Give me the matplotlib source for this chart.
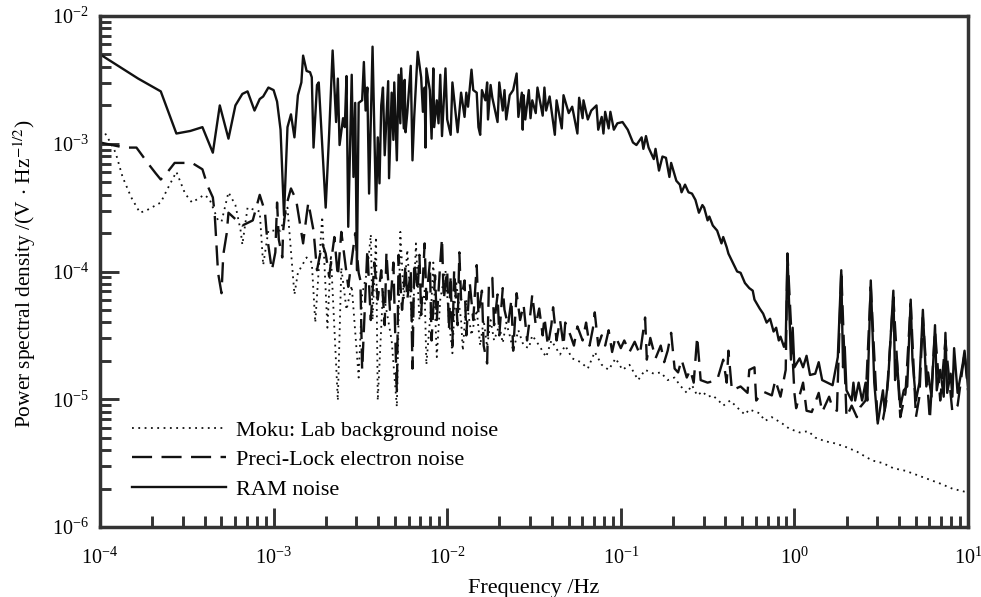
import matplotlib
matplotlib.use('Agg')
import numpy as np
import matplotlib.pyplot as plt
from matplotlib.ticker import LogLocator, NullFormatter

plt.rcParams['font.family'] = ['Liberation Serif', 'DejaVu Serif']
plt.rcParams['mathtext.fontset'] = 'stix'

# all values, stored as log10(Hz) and log10(PSD)
ram_logf = [
    -4.00, -3.78, -3.65, -3.56, -3.48, -3.41, -3.35, -3.31, -3.26, -3.22, -3.18, -3.15, -3.11, -3.08, -3.06, -3.03,
    -3.00, -2.98, -2.96, -2.94, -2.92, -2.90, -2.88, -2.86, -2.84, -2.83, -2.81, -2.79, -2.78, -2.77, -2.75, -2.74,
    -2.70, -2.68, -2.66, -2.64, -2.63, -2.62, -2.60, -2.59, -2.58, -2.57, -2.55, -2.54, -2.53, -2.52, -2.51, -2.49,
    -2.48, -2.47, -2.46, -2.45, -2.43, -2.41, -2.40, -2.39, -2.38, -2.37, -2.36, -2.34, -2.335, -2.32, -2.31, -2.305,
    -2.29, -2.28, -2.27, -2.265, -2.25, -2.245, -2.24, -2.23, -2.21, -2.20, -2.19, -2.17, -2.15, -2.14, -2.13, -2.125,
    -2.12, -2.10, -2.09, -2.08, -2.075, -2.06, -2.05, -2.04, -2.03, -2.01, -2.00, -1.98, -1.97, -1.94, -1.92, -1.90,
    -1.89, -1.88, -1.86, -1.85, -1.83, -1.82, -1.81, -1.80, -1.78, -1.77, -1.765, -1.75, -1.74, -1.71, -1.70, -1.68,
    -1.67, -1.66, -1.64, -1.62, -1.60, -1.59, -1.57, -1.565, -1.56, -1.55, -1.53, -1.52, -1.51, -1.49, -1.48, -1.45,
    -1.44, -1.43, -1.41, -1.38, -1.37, -1.34, -1.33, -1.30, -1.28, -1.25, -1.24, -1.22, -1.215, -1.19, -1.17, -1.14,
    -1.13, -1.11, -1.10, -1.09, -1.07, -1.06, -1.04, -1.02, -0.99, -0.96, -0.93, -0.91, -0.88, -0.87, -0.855, -0.84,
    -0.81, -0.80, -0.78, -0.76, -0.74, -0.72, -0.71, -0.68, -0.66, -0.65, -0.63, -0.61, -0.59, -0.57, -0.55, -0.53,
    -0.52, -0.50, -0.49, -0.47, -0.445, -0.42, -0.41, -0.39, -0.38, -0.355, -0.33, -0.31, -0.285, -0.26, -0.24, -0.23,
    -0.20, -0.18, -0.16, -0.14, -0.12, -0.105, -0.09, -0.08, -0.06, -0.05, -0.04, -0.02, -0.01, 0.00, 0.03, 0.05,
    0.07, 0.09, 0.12, 0.14, 0.16, 0.19, 0.22, 0.25, 0.27, 0.28, 0.29, 0.30, 0.33, 0.34, 0.35, 0.37,
    0.39, 0.41, 0.42, 0.44, 0.46, 0.48, 0.51, 0.52, 0.54, 0.57, 0.58, 0.59, 0.61, 0.63, 0.65, 0.67,
    0.68, 0.70, 0.72, 0.74, 0.76, 0.77, 0.79, 0.81, 0.82, 0.84, 0.86, 0.87, 0.88, 0.90, 0.91, 0.92,
    0.94, 0.97, 0.98, 1.00]
ram_logp = [
    -2.30, -2.49, -2.59, -2.92, -2.90, -2.87, -3.07, -2.70, -2.96, -2.70, -2.61, -2.59, -2.74, -2.65, -2.63, -2.56,
    -2.58, -2.67, -2.89, -3.56, -2.87, -2.77, -2.95, -2.62, -2.52, -2.31, -2.43, -2.44, -2.48, -3.03, -2.54, -2.52,
    -3.50, -2.92, -2.27, -2.83, -2.49, -3.01, -2.80, -2.87, -2.47, -3.65, -2.46, -3.26, -2.68, -3.99, -2.68, -2.66,
    -2.36, -2.74, -2.56, -3.39, -2.24, -3.52, -2.95, -3.31, -2.70, -2.56, -3.09, -2.51, -3.27, -2.60, -2.97, -2.52,
    -3.13, -2.46, -2.84, -2.41, -2.88, -2.50, -2.91, -2.76, -2.39, -3.13, -2.79, -2.28, -2.48, -2.75, -2.56, -3.03,
    -2.41, -2.58, -2.96, -2.41, -2.87, -2.66, -2.84, -2.46, -2.94, -2.41, -2.81, -2.93, -2.52, -2.91, -2.60, -2.79,
    -2.60, -2.71, -2.42, -2.58, -2.60, -2.87, -2.93, -2.58, -2.66, -2.52, -2.81, -2.54, -2.64, -2.83, -2.52, -2.74,
    -2.58, -2.81, -2.62, -2.58, -2.45, -2.79, -2.60, -2.89, -2.62, -2.81, -2.58, -2.80, -2.66, -2.76, -2.56, -2.78,
    -2.56, -2.74, -2.63, -2.93, -2.66, -2.88, -2.62, -2.76, -2.71, -2.92, -2.64, -2.80, -2.66, -2.81, -2.74, -2.70,
    -2.89, -2.79, -2.92, -2.75, -2.88, -2.75, -2.89, -2.84, -2.83, -2.89, -2.99, -3.01, -2.95, -3.04, -2.94, -3.03,
    -3.12, -3.04, -3.21, -3.10, -3.11, -3.26, -3.15, -3.29, -3.32, -3.38, -3.32, -3.38, -3.39, -3.44, -3.54, -3.48,
    -3.50, -3.60, -3.57, -3.64, -3.68, -3.78, -3.73, -3.81, -3.86, -3.93, -4.00, -4.01, -4.09, -4.13, -4.15, -4.22,
    -4.29, -4.33, -4.40, -4.37, -4.47, -4.44, -4.54, -4.51, -4.59, -4.55, -3.86, -4.69, -4.44, -4.75, -4.68, -4.75,
    -4.66, -4.81, -4.80, -4.71, -4.85, -4.87, -4.89, -4.67, -3.99, -4.75, -4.59, -4.93, -5.01, -4.87, -5.01, -4.87,
    -5.01, -4.87, -5.01, -4.07, -4.87, -5.19, -4.93, -5.09, -4.85, -4.15, -4.85, -4.69, -5.06, -4.93, -4.90, -4.22,
    -4.69, -5.01, -4.87, -4.30, -4.90, -4.79, -4.98, -4.42, -4.93, -4.77, -4.98, -4.48, -4.95, -4.80, -4.98, -4.60,
    -4.95, -4.72, -4.62, -4.90]

preci_logf = [
    -4.00, -3.86, -3.79, -3.72, -3.68, -3.65, -3.61, -3.57, -3.47, -3.41, -3.38, -3.35, -3.34, -3.335, -3.32, -3.30,
    -3.29, -3.27, -3.26, -3.18, -3.12, -3.08, -3.05, -3.04, -3.01, -2.99, -2.98, -2.97, -2.95, -2.945, -2.93, -2.90,
    -2.87, -2.83, -2.81, -2.80, -2.77, -2.75, -2.72, -2.70, -2.68, -2.65, -2.63, -2.61, -2.57, -2.53, -2.51, -2.50,
    -2.49, -2.47, -2.46, -2.44, -2.42, -2.40, -2.38, -2.36, -2.35, -2.33, -2.31, -2.30, -2.29, -2.28, -2.26, -2.24,
    -2.23, -2.21, -2.20, -2.19, -2.17, -2.16, -2.15, -2.13, -2.12, -2.10, -2.09, -2.07, -2.06, -2.04, -2.03, -2.02,
    -2.00, -1.99, -1.98, -1.97, -1.96, -1.94, -1.93, -1.92, -1.90, -1.89, -1.87, -1.85, -1.83, -1.82, -1.80, -1.79,
    -1.77, -1.76, -1.74, -1.73, -1.71, -1.70, -1.68, -1.67, -1.65, -1.63, -1.62, -1.60, -1.58, -1.56, -1.54, -1.52,
    -1.51, -1.49, -1.47, -1.45, -1.44, -1.42, -1.40, -1.39, -1.37, -1.35, -1.33, -1.32, -1.29, -1.27, -1.25, -1.22,
    -1.20, -1.18, -1.16, -1.15, -1.13, -1.11, -1.09, -1.07, -1.05, -1.03, -1.00, -0.98, -0.95, -0.92, -0.89, -0.86,
    -0.85, -0.83, -0.80, -0.77, -0.75, -0.73, -0.71, -0.69, -0.67, -0.65, -0.62, -0.60, -0.58, -0.56, -0.54, -0.50,
    -0.445, -0.41, -0.39, -0.38, -0.36, -0.31, -0.27, -0.26, -0.23, -0.22, -0.18, -0.13, -0.11, -0.08, -0.05, -0.04,
    0.00, 0.01, 0.05, 0.07, 0.10, 0.14, 0.16, 0.20, 0.22, 0.245, 0.27, 0.30, 0.33, 0.36, 0.38, 0.41,
    0.44, 0.48, 0.51, 0.53, 0.57, 0.61, 0.64, 0.67, 0.70, 0.72, 0.74, 0.78, 0.81, 0.84, 0.87, 0.91,
    0.94, 0.98, 1.00]
preci_logp = [
    -2.99, -3.03, -3.03, -3.16, -3.23, -3.28, -3.22, -3.15, -3.15, -3.20, -3.33, -3.42, -3.54, -3.65, -4.01, -4.17,
    -3.87, -3.70, -3.54, -3.64, -3.60, -3.40, -3.53, -3.70, -3.99, -3.85, -3.46, -3.75, -3.89, -3.68, -3.50, -3.35,
    -3.44, -3.78, -3.56, -3.46, -3.68, -3.99, -3.78, -3.86, -4.04, -3.73, -4.04, -3.69, -4.12, -3.70, -4.01, -4.07,
    -4.77, -4.15, -3.83, -4.38, -3.93, -4.22, -3.99, -4.42, -3.85, -4.30, -3.93, -4.46, -4.95, -3.87, -4.30, -3.95,
    -4.22, -3.99, -4.76, -3.93, -4.15, -3.87, -4.34, -3.78, -4.22, -3.93, -4.54, -4.03, -4.38, -3.93, -3.74, -4.22,
    -3.99, -4.46, -4.03, -4.58, -3.99, -4.42, -3.85, -4.22, -4.07, -4.50, -4.09, -4.38, -3.95, -4.34, -4.15, -4.58,
    -4.72, -4.11, -4.05, -4.42, -4.18, -4.50, -4.13, -4.30, -4.42, -4.22, -4.62, -4.17, -4.38, -4.26, -4.54, -4.32,
    -4.18, -4.42, -4.29, -4.50, -4.36, -4.58, -4.42, -4.28, -4.54, -4.38, -4.58, -4.40, -4.50, -4.58, -4.43, -4.54,
    -4.40, -4.58, -4.44, -4.32, -4.58, -4.50, -4.58, -4.46, -4.63, -4.51, -4.60, -4.54, -4.63, -4.55, -4.65, -4.36,
    -4.69, -4.52, -4.68, -4.58, -4.71, -4.62, -4.48, -4.76, -4.79, -4.69, -4.83, -4.77, -4.87, -4.51, -4.85, -4.87,
    -4.85, -4.69, -4.87, -4.62, -4.93, -4.90, -4.95, -4.77, -4.75, -5.01, -4.94, -4.97, -4.85, -4.98, -4.77, -3.86,
    -4.95, -5.07, -4.87, -5.09, -5.10, -4.95, -5.10, -4.98, -5.07, -5.09, -3.99, -5.14, -5.05, -5.14, -5.06, -5.01,
    -4.12, -5.19, -5.16, -5.01, -4.20, -5.14, -4.95, -4.25, -5.14, -4.98, -4.36, -5.16, -4.46, -5.01, -4.54, -5.10,
    -5.05, -4.64, -4.93]

moku_logf = [
    -3.97, -3.94, -3.91, -3.87, -3.82, -3.77, -3.73, -3.65, -3.61, -3.56, -3.51, -3.47, -3.40, -3.37, -3.32, -3.30,
    -3.26, -3.22, -3.19, -3.18, -3.15, -3.08, -3.06, -3.03, -2.96, -2.92, -2.88, -2.86, -2.81, -2.78, -2.76, -2.72,
    -2.69, -2.67, -2.63, -2.61, -2.58, -2.55, -2.51, -2.49, -2.46, -2.44, -2.43, -2.41, -2.40, -2.37, -2.34, -2.32,
    -2.29, -2.27, -2.25, -2.23, -2.20, -2.18, -2.16, -2.13, -2.12, -2.09, -2.08, -2.06, -2.04, -2.01, -1.99, -1.97,
    -1.95, -1.92, -1.91, -1.89, -1.86, -1.83, -1.81, -1.79, -1.77, -1.75, -1.73, -1.70, -1.68, -1.66, -1.64, -1.62,
    -1.59, -1.56, -1.53, -1.51, -1.47, -1.43, -1.40, -1.35, -1.32, -1.28, -1.23, -1.19, -1.15, -1.11, -1.07, -1.03,
    -0.99, -0.95, -0.90, -0.86, -0.81, -0.77, -0.73, -0.69, -0.66, -0.62, -0.59, -0.56, -0.53, -0.50, -0.47, -0.43,
    -0.41, -0.37, -0.31, -0.285, -0.26, -0.20, -0.17, -0.13, -0.07, -0.03, 0.03, 0.08, 0.12, 0.18, 0.22, 0.29,
    0.36, 0.41, 0.45, 0.51, 0.57, 0.64, 0.70, 0.78, 0.84, 0.91, 1.00]
moku_logp = [
    -2.92, -2.99, -3.07, -3.26, -3.42, -3.54, -3.52, -3.46, -3.35, -3.22, -3.39, -3.46, -3.40, -3.43, -3.60, -3.61,
    -3.38, -3.48, -3.68, -3.79, -3.50, -3.53, -3.95, -3.68, -3.68, -3.50, -4.18, -4.01, -3.89, -3.93, -4.40, -3.57,
    -4.44, -3.87, -5.01, -3.97, -4.30, -4.11, -4.83, -4.18, -3.99, -3.71, -4.38, -3.73, -5.01, -4.15, -4.38, -4.54,
    -5.06, -3.69, -4.22, -3.83, -4.46, -3.78, -4.38, -4.15, -4.73, -4.22, -3.93, -4.67, -4.22, -3.99, -4.38, -4.64,
    -4.07, -4.38, -4.62, -4.22, -4.50, -4.30, -4.58, -4.38, -4.59, -4.38, -4.54, -4.42, -4.56, -4.40, -4.50, -4.62,
    -4.46, -4.58, -4.60, -4.50, -4.58, -4.67, -4.54, -4.65, -4.58, -4.68, -4.71, -4.76, -4.63, -4.73, -4.77, -4.68,
    -4.77, -4.73, -4.85, -4.77, -4.80, -4.79, -4.85, -4.83, -4.89, -4.95, -4.89, -4.97, -4.94, -4.98, -4.97, -5.02,
    -5.05, -5.01, -5.09, -5.12, -5.08, -5.11, -5.17, -5.14, -5.19, -5.23, -5.26, -5.25, -5.30, -5.33, -5.34, -5.37,
    -5.41, -5.45, -5.48, -5.50, -5.54, -5.56, -5.59, -5.63, -5.66, -5.70, -5.73]

fig = plt.figure(figsize=(9.81, 5.97), dpi=100)
ax = fig.add_axes([100/981, 70/597, 868/981, 511/597])

ax.plot(10.0**np.array(moku_logf), 10.0**np.array(moku_logp), color='#111111', linewidth=1.3,
        linestyle=(0, (1, 2.5)), label='Moku: Lab background noise')
ax.plot(10.0**np.array(preci_logf), 10.0**np.array(preci_logp), color='#111111', linewidth=1.7,
        linestyle=(0, (8.5, 4)), label='Preci-Lock electron noise')
ax.plot(10.0**np.array(ram_logf), 10.0**np.array(ram_logp), color='#111111', linewidth=1.7,
        label='RAM noise')

ax.set_xscale('log')
ax.set_yscale('log')
ax.set_xlim(1e-4, 10)
ax.set_ylim(1e-6, 1e-2)

for axis in [ax.xaxis, ax.yaxis]:
    axis.set_major_locator(LogLocator(base=10, numticks=12))
    axis.set_minor_locator(LogLocator(base=10, subs=np.arange(2, 10), numticks=12))
    axis.set_minor_formatter(NullFormatter())
ax.tick_params(which='major', direction='in', length=13.5, width=2.1, color='#333333', labelsize=14.5, pad=8)
ax.tick_params(which='minor', direction='in', length=8, width=2.1, color='#333333')
ax.tick_params(axis='x', pad=15)
for s in ax.spines.values():
    s.set_linewidth(2.5)
    s.set_color('#333333')

ax.set_xlabel('Frequency /Hz', fontsize=16, labelpad=7)
ax.set_ylabel(r'Power spectral density /(V$\,\cdot\,$Hz$^{-1/2}$)', fontsize=15.4)
ax.yaxis.set_label_coords(-0.071, 0.495)

ax.legend(loc='lower left', bbox_to_anchor=(0.0369, 0.053), frameon=False, fontsize=16,
          handlelength=4.23, handletextpad=0.45, labelspacing=0.41, borderpad=0, borderaxespad=0)

fig.savefig('out.png', dpi=100)
